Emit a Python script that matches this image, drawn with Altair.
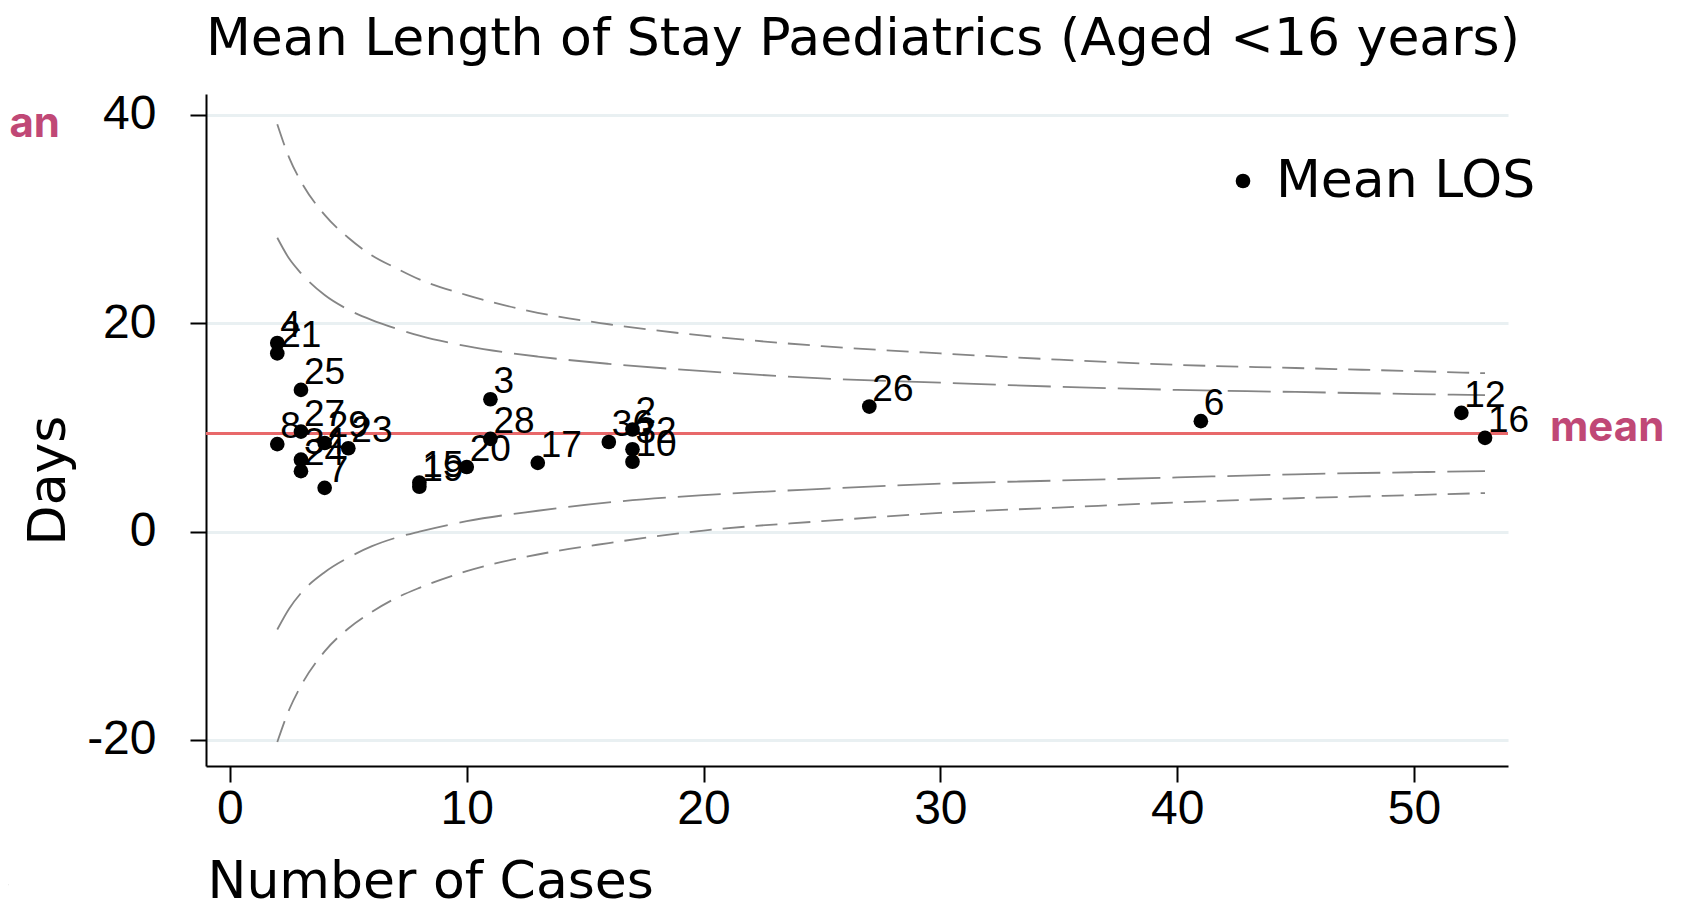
import altair as alt
import pandas as pd

# ---- data ----
hospital = ["4", "21", "8", "25", "27", "34", "24", "29", "7", "23", "15", "19",
            "20", "28", "3", "17", "36", "2", "32", "10", "26", "6", "12", "16"]
cases = [2, 2, 2, 3, 3, 3, 3, 4, 4, 5, 8, 8,
         10, 11, 11, 13, 16, 17, 17, 17, 27, 41, 52, 53]
mean_los = [18.1, 17.1, 8.4, 13.6, 9.6, 6.9, 5.8, 8.5, 4.2, 8.0, 4.7, 4.3,
            6.2, 8.9, 12.7, 6.6, 8.6, 9.8, 7.9, 6.7, 12.0, 10.6, 11.4, 9.0]

overall_mean = 9.42

funnel_n = [2, 2.5, 3, 4, 5, 6, 7, 8, 10, 13, 16, 20, 25, 30, 35, 40, 45, 50, 53]
lower_998 = [-20.2, -17.1, -14.8, -11.5, -9.3, -7.7, -6.4, -5.4, -3.8, -2.2, -1.1, 0.1, 1.0, 1.8, 2.3, 2.8, 3.2, 3.5, 3.7]
lower_95 = [-9.4, -7.4, -5.9, -3.9, -2.5, -1.4, -0.6, 0.0, 1.0, 2.0, 2.8, 3.5, 4.1, 4.6, 4.9, 5.2, 5.5, 5.7, 5.8]
upper_95 = [28.2, 26.2, 24.8, 22.7, 21.3, 20.3, 19.5, 18.8, 17.8, 16.8, 16.1, 15.4, 14.7, 14.3, 13.9, 13.6, 13.4, 13.2, 13.1]
upper_998 = [39.1, 35.9, 33.6, 30.4, 28.2, 26.5, 25.3, 24.2, 22.7, 21.0, 19.9, 18.8, 17.8, 17.1, 16.5, 16.0, 15.7, 15.4, 15.2]

x_ticks = [0, 10, 20, 30, 40, 50]
y_ticks = [-20, 0, 20, 40]

# ---- tables ----
pts = pd.DataFrame({"label": hospital, "cases": cases, "los": mean_los,
                    "series": ["Mean LOS"] * len(hospital)})

outer = pd.concat([
    pd.DataFrame({"n": funnel_n, "v": upper_998, "side": "upper"}),
    pd.DataFrame({"n": funnel_n, "v": lower_998, "side": "lower"}),
])
inner = pd.concat([
    pd.DataFrame({"n": funnel_n, "v": upper_95, "side": "upper"}),
    pd.DataFrame({"n": funnel_n, "v": lower_95, "side": "lower"}),
])
mean_df = pd.DataFrame({"m": [overall_mean]})

TXT = "DejaVu Sans"
TXT_SIZE = 52
NUM = "Liberation Sans"
PINK = "#c04876"

xs = alt.Scale(domain=[-1.01, 53.97], nice=False, zero=False)
ys = alt.Scale(domain=[-22.5, 42.0], nice=False, zero=False)

x_axis = alt.Axis(values=x_ticks, grid=False, title="Number of Cases",
                  titleX=1, titleY=131, titleAlign="left", titleBaseline="alphabetic",
                  labelPadding=3)
y_axis = alt.Axis(values=y_ticks, grid=True, title="Days",
                  titleAngle=-90, titleX=-142, titleY=386, titleAlign="center",
                  titleBaseline="alphabetic", labelPadding=34,
                  labelExpr="datum.value < 0 ? '-' + abs(datum.value) : '' + datum.value")

base_x = alt.X("n:Q", scale=xs, axis=x_axis)
base_y = alt.Y("v:Q", scale=ys, axis=y_axis)

outer_lines = alt.Chart(outer).mark_line(
    color="#858585", strokeWidth=1.8, strokeDash=[22, 11], interpolate="monotone"
).encode(x=base_x, y=base_y, detail="side:N")

inner_lines = alt.Chart(inner).mark_line(
    color="#858585", strokeWidth=1.8, strokeDash=[43, 12], interpolate="monotone"
).encode(x=alt.X("n:Q", scale=xs), y=alt.Y("v:Q", scale=ys), detail="side:N")

mean_rule = alt.Chart(mean_df).mark_rule(color="#e8686a", strokeWidth=3).encode(
    y=alt.Y("m:Q", scale=ys)
)

mean_label = alt.Chart(mean_df).mark_text(
    text="mean", font="Inter", fontSize=42, fontWeight="bold", color=PINK,
    align="left", baseline="alphabetic", dy=8
).encode(x=alt.value(1344), y=alt.Y("m:Q", scale=ys))

points = alt.Chart(pts).mark_circle(size=215, opacity=1).encode(
    x=alt.X("cases:Q", scale=xs),
    y=alt.Y("los:Q", scale=ys),
    color=alt.Color("series:N", scale=alt.Scale(range=["#000000"]),
                    legend=alt.Legend(title=None, orient="none", legendX=1011, legendY=61,
                                      symbolType="circle", symbolSize=215,
                                      labelFont=TXT, labelFontSize=TXT_SIZE,
                                      labelColor="#000000", labelLimit=600,
                                      labelOffset=7, padding=0)),
)

point_labels = alt.Chart(pts).mark_text(
    font=NUM, fontSize=37, color="#000000", align="left", baseline="alphabetic",
    dx=3, dy=-6
).encode(x=alt.X("cases:Q", scale=xs), y=alt.Y("los:Q", scale=ys), text="label:N")

# cut-off remnants at the left edge of the picture
edge_text = pd.DataFrame({"t": ["mean", ")", "LOS"],
                          "px": [-146, -195, -195],
                          "py": [43, 650, 801]})
edge_bold = alt.Chart(edge_text.iloc[[0]]).mark_text(
    font="Inter", fontSize=42, fontWeight="bold", color=PINK, align="right",
    baseline="alphabetic"
).encode(x=alt.X("px:Q", scale=None), y=alt.Y("py:Q", scale=None), text="t:N")
edge_norm = alt.Chart(edge_text.iloc[[1, 2]]).mark_text(
    font=TXT, fontSize=TXT_SIZE, color="#000000", align="right", baseline="alphabetic"
).encode(x=alt.X("px:Q", scale=None), y=alt.Y("py:Q", scale=None), text="t:N")

chart = alt.layer(
    outer_lines, inner_lines, mean_rule, points, point_labels, mean_label,
    edge_bold, edge_norm
).properties(
    width=1302, height=672,
    autosize=alt.AutoSizeParams(type="none"),
    padding={"left": 198, "top": 86, "right": 167, "bottom": 137},
    title=alt.TitleParams(
        "Mean Length of Stay Paediatrics (Aged <16 years)",
        anchor="start", frame="group", font=TXT, fontSize=TXT_SIZE, fontWeight="normal",
        color="#000000", offset=36, baseline="alphabetic", dy=52
    ),
).configure_view(stroke=None).configure_axis(
    domainColor="#000000", domainWidth=2, tickColor="#000000", tickWidth=2,
    tickSize=16, labelFont=NUM, labelFontSize=48, labelColor="#000000",
    titleFont=TXT, titleFontSize=TXT_SIZE, titleFontWeight="normal", titleColor="#000000",
    gridColor="#e9f0f2", gridWidth=3
).configure_axisY(labelBaseline="middle")

chart.save("out.html", embed_options={"renderer": "svg", "actions": False})
